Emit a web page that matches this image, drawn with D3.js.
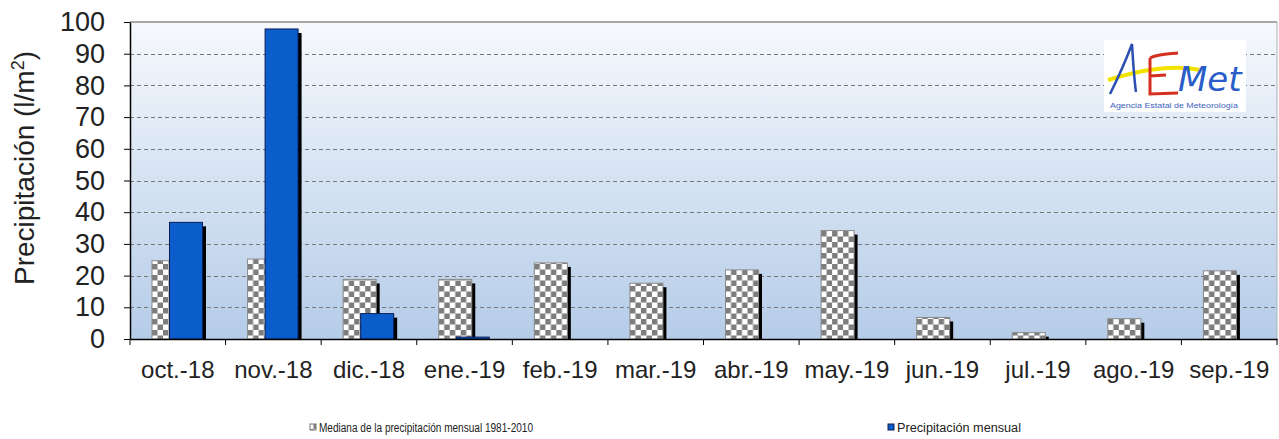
<!DOCTYPE html>
<html><head><meta charset="utf-8">
<script src="https://cdn.jsdelivr.net/npm/d3@7"></script>
<style>body{margin:0;background:#fff;}svg{display:block;font-family:Arial,"Liberation Sans",sans-serif;}</style>
</head><body><svg id="c" width="1279" height="439"></svg>
<script>
const months = ["oct.-18","nov.-18","dic.-18","ene.-19","feb.-19","mar.-19","abr.-19","may.-19","jun.-19","jul.-19","ago.-19","sep.-19"];
const medianValues = [24.7,25.2,18.8,18.8,24.0,17.6,21.8,34.2,6.8,2.0,6.4,21.5];
const precipValues = [36.8,97.8,8.0,0.6,0,0,0,0,0,0,0,0];
const yTicks = [0,10,20,30,40,50,60,70,80,90,100];
const seriesNames = ["Mediana de la precipitación mensual  1981-2010","Precipitación mensual"];

const svg = d3.select("#c");
const L=130,R=1277,T=22,B=339;
const x = d3.scaleBand().domain(months).range([L,R]).padding(0);
const y = d3.scaleLinear().domain([0,100]).range([B,T]);
const sub = d3.scalePoint().domain(["med","prec"]).range([22,39.5]);
const bw = 33;

const defs = svg.append("defs");
const g = defs.append("linearGradient").attr("id","bg").attr("x1",0).attr("y1",0).attr("x2",0).attr("y2",1);
g.append("stop").attr("offset","0%").attr("stop-color","#f6f9fd");
g.append("stop").attr("offset","100%").attr("stop-color","#b5cce8");
const pat = defs.append("pattern").attr("id","chk").attr("patternUnits","userSpaceOnUse").attr("width",11).attr("height",11);
pat.append("rect").attr("width",11).attr("height",11).attr("fill","#fff");
pat.append("rect").attr("x",0).attr("y",0).attr("width",5.5).attr("height",5.5).attr("fill","#7d7d7d");
pat.append("rect").attr("x",5.5).attr("y",5.5).attr("width",5.5).attr("height",5.5).attr("fill","#7d7d7d");

svg.append("rect").attr("x",L).attr("y",T).attr("width",R-L).attr("height",B-T).attr("fill","url(#bg)");
svg.append("line").attr("x1",L).attr("x2",R).attr("y1",T).attr("y2",T).attr("stroke","#8a8a8a").attr("stroke-width",1.5);
svg.append("line").attr("x1",R).attr("x2",R).attr("y1",T).attr("y2",B).attr("stroke","#b0b0b0");

svg.selectAll(".grid").data(yTicks.filter(d=>d>0&&d<100)).enter().append("line")
  .attr("x1",L).attr("x2",R).attr("y1",d=>Math.round(y(d))+0.5).attr("y2",d=>Math.round(y(d))+0.5)
  .attr("stroke","#777").attr("stroke-dasharray","4,3").attr("stroke-width",1);

// bars
const cat = svg.selectAll(".cat").data(months).enter().append("g").attr("transform",d=>`translate(${x(d)},0)`);
function drawBar(sel, key, vals, fill, stroke){
  sel.each(function(d,i){
    const v = vals[i]; if(!v) return;
    const gg = d3.select(this);
    const x0 = sub(key), top = y(v), h = B - top;
    gg.append("rect").attr("x",x0+3.5).attr("y",top+4).attr("width",bw).attr("height",Math.max(0,h-4)).attr("fill","#000");
    gg.append("rect").attr("x",x0).attr("y",top).attr("width",bw).attr("height",h).attr("fill",fill).attr("stroke",stroke).attr("stroke-width",1);
  });
}
drawBar(cat,"med",medianValues,"url(#chk)","#8a8a8a");
drawBar(cat,"prec",precipValues,"#0b5dcc","#0a1d55");

// axes
const ya = svg.append("g").attr("transform",`translate(${L},0)`)
  .call(d3.axisLeft(y).tickValues(yTicks).tickSize(6).tickSizeOuter(0).tickPadding(19));
ya.select(".domain").attr("stroke","#000").attr("stroke-width",1.5);
ya.selectAll(".tick line").attr("stroke","#000");
ya.selectAll("text").attr("font-size",27).attr("fill","#222").attr("font-family","Arial,'Liberation Sans',sans-serif");

const xa = svg.append("g").attr("transform",`translate(0,${B})`)
  .call(d3.axisBottom(x).tickSize(0).tickPadding(0));
xa.select(".domain").attr("stroke","#000").attr("stroke-width",1.5);
xa.selectAll("text").attr("font-size",24).attr("fill","#222").attr("dy",0).attr("y",39).attr("font-family","Arial,'Liberation Sans',sans-serif");
svg.append("g").selectAll("line").data(months.concat(["_end"])).enter().append("line")
  .attr("x1",d=>d==="_end"?R:x(d)).attr("x2",d=>d==="_end"?R:x(d))
  .attr("y1",B).attr("y2",B+6).attr("stroke","#000");

svg.append("text").attr("transform","translate(34,168) rotate(-90)").attr("text-anchor","middle")
  .attr("font-size",28).attr("fill","#222")
  .html('Precipitación (l/m<tspan font-size="18" dy="-10">2</tspan><tspan dy="10">)</tspan>');

// legend
const leg = [{name:seriesNames[0],fill:"url(#chk)",stroke:"#777",x:310,len:214},{name:seriesNames[1],fill:"#0b5dcc",stroke:"#0a1d55",x:888,len:124}];
leg.forEach(l=>{
  svg.append("rect").attr("x",l.x).attr("y",424).attr("width",6).attr("height",6).attr("fill",l.fill).attr("stroke",l.stroke);
  svg.append("text").attr("x",l.x+9).attr("y",432).attr("font-size",12).attr("fill","#222")
    .attr("textLength",l.len).attr("lengthAdjust","spacingAndGlyphs").text(l.name);
});

// logo
const lg = svg.append("g");
lg.append("rect").attr("x",1104).attr("y",40).attr("width",142).attr("height",72).attr("fill","#fff");
lg.append("path").attr("d","M1108,80 C1140,70 1172,64 1200,70").attr("stroke","#f2e200").attr("stroke-width",4).attr("fill","none");
lg.append("path").attr("d","M1110,94 C1118,78 1126,60 1132,44 C1133,60 1134,78 1136,92").attr("stroke","#2a4fb0").attr("stroke-width",2.5).attr("fill","none");
lg.append("path").attr("d","M1150,58 C1158,54 1170,54 1178,53 M1150,58 L1150,94 L1178,93 M1150,76 L1166,75").attr("stroke","#d43020").attr("stroke-width",3).attr("fill","none");
lg.append("text").attr("x",1178).attr("y",91).attr("font-size",34).attr("font-style","italic").attr("fill","#2a5dc8").attr("font-family","'DejaVu Sans',sans-serif").attr("font-weight",300).text("Met");
lg.append("text").attr("x",1110).attr("y",108).attr("font-size",7).attr("fill","#3a5fc0").attr("textLength",128).attr("lengthAdjust","spacingAndGlyphs").text("Agencia Estatal de Meteorología");
</script></body></html>
